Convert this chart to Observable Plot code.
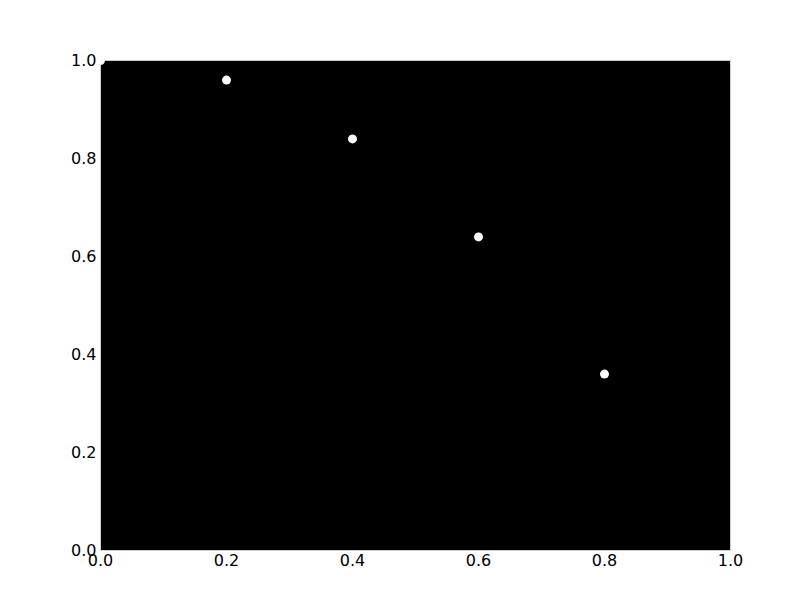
<!DOCTYPE html>
<html><head><meta charset="utf-8">
<script src="https://cdn.jsdelivr.net/npm/d3@7"></script>
<script src="https://cdn.jsdelivr.net/npm/@observablehq/plot@0.6"></script>
<style>body{margin:0;background:#fff}</style>
</head><body><div id="chart"></div>
<script>
const xs = [0, 0.2, 0.4, 0.6, 0.8];
const ys = [1.0, 0.96, 0.84, 0.64, 0.36];
const xTicks = [0, 0.2, 0.4, 0.6, 0.8, 1.0];
const yTicks = [0, 0.2, 0.4, 0.6, 0.8, 1.0];
const data = xs.map((x, i) => ({x, y: ys[i]}));
const chart = Plot.plot({
  width: 812, height: 612,
  marginLeft: 100, marginRight: 82, marginTop: 60, marginBottom: 62,
  style: {fontFamily: "DejaVu Sans", fontSize: "16px", background: "#fff", color: "#000"},
  x: {domain: [0, 1], ticks: xTicks, tickFormat: d => d.toFixed(1), label: null},
  y: {domain: [0, 1], ticks: yTicks, tickFormat: d => d.toFixed(1), label: null},
  marks: [
    Plot.frame({fill: "#000", stroke: "#ccc", strokeWidth: 1}),
    Plot.axisX({ticks: xTicks, tickFormat: d => d.toFixed(1), tickSize: 0, tickPadding: 4, fontSize: 16}),
    Plot.axisY({ticks: yTicks, tickFormat: d => d.toFixed(1), tickSize: 0, tickPadding: 4, fontSize: 16}),
    Plot.dot(data, {x: "x", y: "y", r: 4.5, fill: "#fff", stroke: "none", clip: true})
  ]
});
document.getElementById("chart").appendChild(chart);
</script></body></html>
